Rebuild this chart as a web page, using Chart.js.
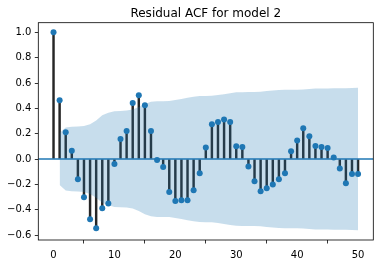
<!DOCTYPE html>
<html><head><meta charset="utf-8">
<script src="https://cdn.jsdelivr.net/npm/chart.js@4/dist/chart.umd.min.js"></script>
<style>html,body{margin:0;padding:0;background:#fff;overflow:hidden}</style>
</head><body>
<canvas id="c" width="383" height="264"></canvas>
<script>
const titleText = 'Residual ACF for model 2';
const lags = [0,1,2,3,4,5,6,7,8,9,10,11,12,13,14,15,16,17,18,19,20,21,22,23,24,25,26,27,28,29,30,31,32,33,34,35,36,37,38,39,40,41,42,43,44,45,46,47,48,49,50];
const acfValues = [1.0,0.463,0.212,0.066,-0.160,-0.302,-0.476,-0.547,-0.389,-0.350,-0.039,0.158,0.221,0.442,0.503,0.424,0.221,-0.008,-0.063,-0.260,-0.331,-0.326,-0.326,-0.247,-0.113,0.092,0.274,0.292,0.313,0.292,0.100,0.095,-0.058,-0.176,-0.255,-0.231,-0.200,-0.160,-0.113,0.061,0.147,0.242,0.179,0.103,0.095,0.087,0.013,-0.074,-0.192,-0.118,-0.118];
const bandLags = [1,2,3,4,5,6,7,8,9,10,11,12,13,14,15,16,17,18,19,20,21,22,23,24,25,26,27,28,29,30,31,32,33,34,35,36,37,38,39,40,41,42,43,44,45,46,47,48,49,50];
const bandHalfWidth = [0.205,0.248,0.255,0.256,0.260,0.275,0.305,0.345,0.365,0.378,0.380,0.383,0.390,0.410,0.435,0.452,0.457,0.457,0.458,0.465,0.474,0.483,0.492,0.497,0.498,0.499,0.505,0.512,0.520,0.527,0.528,0.529,0.529,0.531,0.537,0.541,0.544,0.546,0.547,0.547,0.549,0.553,0.556,0.557,0.557,0.558,0.558,0.558,0.561,0.562];
const xTickValues = [0,10,20,30,40,50];
const xTickLabels = ['0','10','20','30','40','50'];
const yTickValues = [-0.6,-0.4,-0.2,0.0,0.2,0.4,0.6,0.8,1.0];
const yTickLabels = ['\u22120.6','\u22120.4','\u22120.2','0.0','0.2','0.4','0.6','0.8','1.0'];
const xRange = [-2.5, 52.5];
const yRange = [-0.639, 1.076];

const C0 = '#1f77b4';
const FONT = 'DejaVu Sans';

const framePlugin = {
  id: 'frame',
  afterDraw(chart) {
    const {ctx, chartArea: a} = chart;
    ctx.save();
    ctx.strokeStyle = '#000';
    ctx.lineWidth = 0.8;
    ctx.strokeRect(a.left, a.top, a.right - a.left, a.bottom - a.top);
    ctx.fillStyle = '#000';
    ctx.font = '12px "' + FONT + '"';
    ctx.textAlign = 'center';
    ctx.textBaseline = 'alphabetic';
    ctx.fillText(titleText, (a.left + a.right) / 2, a.top - 6);
    ctx.restore();
  }
};

const upper = bandLags.map((x, i) => ({x, y: bandHalfWidth[i]}));
const lower = bandLags.map((x, i) => ({x, y: -bandHalfWidth[i]}));

new Chart(document.getElementById('c'), {
  type: 'scatter',
  data: {
    datasets: [
      { type: 'bar', data: lags.map((x, i) => ({x, y: [0, acfValues[i]]})),
        backgroundColor: 'rgba(0,0,0,0.85)', borderWidth: 0, barThickness: 1.8, grouped: false, order: 4 },
      { type: 'line', data: [{x: xRange[0], y: 0}, {x: xRange[1], y: 0}],
        borderColor: C0, borderWidth: 1.5, pointRadius: 0, fill: false, order: 3 },
      { type: 'scatter', data: lags.map((x, i) => ({x, y: acfValues[i]})),
        backgroundColor: C0, borderWidth: 0, pointRadius: 3, order: 2 },
      { type: 'line', data: lower, borderWidth: 0, pointRadius: 0, fill: false, order: 1 },
      { type: 'line', data: upper, borderWidth: 0, pointRadius: 0, fill: 3,
        backgroundColor: 'rgba(31,119,180,0.25)', order: 0 }
    ]
  },
  options: {
    responsive: false,
    devicePixelRatio: 1,
    animation: false,
    events: [],
    layout: { padding: { top: 22.7, right: 9.7, left: 0, bottom: 0 } },
    plugins: { legend: { display: false }, tooltip: { enabled: false }, title: { display: false } },
    scales: {
      x: {
        type: 'linear', min: xRange[0], max: xRange[1], offset: false,
        afterFit(s) { s.height = 24; },
        afterBuildTicks(s) { s.ticks = xTickValues.map(v => ({value: v})); },
        ticks: { color: '#000', font: { family: FONT, size: 10 }, padding: 5.5, maxRotation: 0,
          callback: (v) => { const i = xTickValues.indexOf(v); return i >= 0 ? xTickLabels[i] : ''; } },
        grid: { drawOnChartArea: false, drawTicks: true, tickLength: 3.5, tickColor: '#000', tickWidth: 0.8 },
        border: { display: false }
      },
      y: {
        type: 'linear', min: yRange[0], max: yRange[1],
        afterFit(s) { s.width = 38.3; },
        afterBuildTicks(s) { s.ticks = yTickValues.map(v => ({value: v})); },
        ticks: { color: '#000', font: { family: FONT, size: 10 }, padding: 3.5,
          callback: (v) => { const i = yTickValues.findIndex(t => Math.abs(t - v) < 1e-9); return i >= 0 ? yTickLabels[i] : ''; } },
        grid: { drawOnChartArea: false, drawTicks: true, tickLength: 3.5, tickColor: '#000', tickWidth: 0.8 },
        border: { display: false }
      }
    }
  },
  plugins: [framePlugin]
});
</script>
</body></html>
